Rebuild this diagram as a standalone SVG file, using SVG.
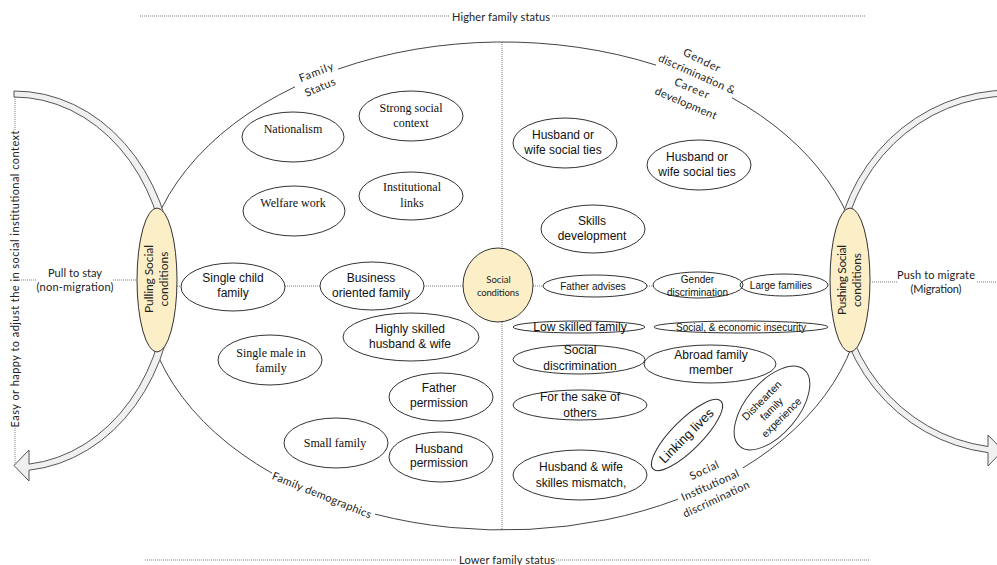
<svg xmlns="http://www.w3.org/2000/svg" width="997" height="565" viewBox="0 0 997 565">
<style>
  .dot{stroke:#7a7a7a;stroke-width:1;stroke-dasharray:1 1;fill:none}
  .node ellipse{fill:none;stroke:#333;stroke-width:1}
  .core{fill:#fcefc8;stroke:#333;stroke-width:1}
  .frame{fill:none;stroke:#444;stroke-width:1}
  .band{fill:#f0f0f0;stroke:#555;stroke-width:1}
  .serif{font-family:"Liberation Serif","Times New Roman",serif;font-size:12px;fill:#111;text-anchor:middle}
  .sans{font-family:"Liberation Sans",Arial,sans-serif;font-size:12px;fill:#111;text-anchor:middle}
  .small{font-size:10px}
  .cal{font-family:Lato,"Open Sans",sans-serif;font-size:11px;fill:#222;text-anchor:middle}
</style>

<rect width="997" height="565" fill="#fff"/>

<!-- status axis and guide lines -->
<g id="connectors">
  <path class="dot" d="M140,16H450M552,16H866"/>
  <path class="dot" d="M145,560H457M556,560H870"/>
  <path class="dot" d="M502,42V248M502,322V529"/>
  <path class="dot" d="M15,91V130M15,428V465"/>
  <path class="dot" d="M15,280H36M113,280H137"/>
  <path class="dot" d="M872,282H897M977,282H997"/>
  <path class="dot" d="M177,286H181M285,286H320M424,286H463M533,286H543M647,286H654"/>
</g>

<g id="axis-labels">
  <text class="cal" x="501" y="20.5" textLength="98">Higher family status</text>
  <text class="cal" x="507" y="564" textLength="96">Lower family status</text>
  <text class="cal" transform="translate(15,279) rotate(-90)" y="4" textLength="297">Easy or happy to adjust the in social institutional context</text>
  <text class="cal" x="75" y="277" textLength="54">Pull to stay</text>
  <text class="cal" x="75" y="291" textLength="77">(non-migration)</text>
  <text class="cal" x="936" y="279" textLength="78">Push to migrate</text>
  <text class="cal" x="936" y="293" textLength="51">(Migration)</text>
</g>

<!-- outer family frame, broken where the theme labels sit -->
<g id="frame">
  <path class="frame" d="M338,69.1A360,244 0 0 1 656,65.1M732,97.7A360,244 0 0 1 743,467.9M678,499.2A360,244 0 0 1 375,514.1M272,473.2A360,244 0 0 1 295,86.8"/>
  <text class="cal" transform="translate(316,72) rotate(-21)" y="4" textLength="36">Family</text>
  <text class="cal" transform="translate(320,87) rotate(-23)" y="4" textLength="32">Status</text>
  <text class="cal" transform="translate(702,60) rotate(26)" y="4" textLength="40">Gender</text>
  <text class="cal" transform="translate(697,74) rotate(24)" y="4" textLength="83">discrimination &amp;</text>
  <text class="cal" transform="translate(692,88) rotate(23)" y="4" textLength="37">Career</text>
  <text class="cal" transform="translate(686,103) rotate(23)" y="4" textLength="66">development</text>
  <text class="cal" transform="translate(322,495) rotate(22)" y="4" textLength="106">Family demographics</text>
  <text class="cal" transform="translate(704,470) rotate(-25)" y="4" textLength="31">Social</text>
  <text class="cal" transform="translate(710,485) rotate(-24)" y="4" textLength="62">Institutional</text>
  <text class="cal" transform="translate(716,499) rotate(-25)" y="4" textLength="72">discrimination</text>
</g>

<!-- curved direction arrows -->
<g id="stay-arrow">
  <path class="band" d="M14,91A160,190 0 0 1 29,470.2L29,481L14,465.5L29,450L29,464.1A153,184 0 0 0 14,97Z"/>
</g>
<g id="migrate-arrow">
  <path class="band" d="M1010,90A176,182 0 0 0 988,452.6L988,466L1003,450.5L988,435L988,446.5A170,176 0 0 1 1010,96Z"/>
</g>

<!-- pulling / pushing poles and the central hub -->
<g id="pulling">
  <ellipse class="core" cx="157" cy="280" rx="20" ry="72"/>
  <g transform="translate(157,279) rotate(-90)">
    <text class="cal" x="0" y="-4" style="font-size:12px" textLength="68">Pulling Social</text>
    <text class="cal" x="0" y="11" style="font-size:12px" textLength="55">conditions</text>
  </g>
</g>
<g id="pushing">
  <ellipse class="core" cx="850" cy="280" rx="20" ry="72"/>
  <g transform="translate(850,280) rotate(-90)">
    <text class="cal" x="0" y="-4" style="font-size:12px" textLength="70">Pushing Social</text>
    <text class="cal" x="0" y="11" style="font-size:12px" textLength="54">conditions</text>
  </g>
</g>
<g id="social-conditions">
  <ellipse class="core" cx="498" cy="285" rx="35" ry="37"/>
  <text class="cal" x="498.5" y="282.5" style="font-size:9.5px">Social</text>
  <text class="cal" x="498" y="295.5" style="font-size:9.5px" textLength="42">conditions</text>
</g>

<!-- left half: staying factors -->
<g id="nationalism" class="node"><ellipse cx="293" cy="137" rx="51" ry="25"/><text class="serif" x="293" y="133">Nationalism</text></g>
<g id="strong-social-context" class="node"><ellipse cx="411" cy="116" rx="52" ry="25"/><text class="serif" x="411" y="112">Strong social</text><text class="serif" x="411" y="127">context</text></g>
<g id="welfare-work" class="node"><ellipse cx="294" cy="211" rx="51" ry="25"/><text class="serif" x="293" y="207">Welfare work</text></g>
<g id="institutional-links" class="node"><ellipse cx="411" cy="196" rx="52" ry="24"/><text class="serif" x="412" y="191">Institutional</text><text class="serif" x="412" y="207">links</text></g>
<g id="single-child" class="node"><ellipse cx="233" cy="287" rx="52" ry="24"/><text class="sans" x="233" y="282">Single child</text><text class="sans" x="233" y="297">family</text></g>
<g id="business-oriented" class="node"><ellipse cx="372" cy="286" rx="52" ry="24"/><text class="sans" x="371" y="282">Business</text><text class="sans" x="371" y="297">oriented family</text></g>
<g id="highly-skilled" class="node"><ellipse cx="411" cy="337" rx="68" ry="24"/><text class="sans" x="410" y="333">Highly skilled</text><text class="sans" x="410" y="348">husband &amp; wife</text></g>
<g id="single-male" class="node"><ellipse cx="270" cy="360" rx="52" ry="25"/><text class="serif" x="271" y="357">Single male in</text><text class="serif" x="271" y="372">family</text></g>
<g id="father-permission" class="node"><ellipse cx="441" cy="397" rx="52" ry="24"/><text class="sans" x="439" y="392">Father</text><text class="sans" x="439" y="407">permission</text></g>
<g id="small-family" class="node"><ellipse cx="336" cy="443" rx="52" ry="25"/><text class="serif" x="335" y="447">Small family</text></g>
<g id="husband-permission" class="node"><ellipse cx="441" cy="457" rx="52" ry="25"/><text class="sans" x="439" y="453">Husband</text><text class="sans" x="439" y="467">permission</text></g>

<!-- right half: migrating factors -->
<g id="social-ties-1" class="node"><ellipse cx="565" cy="143" rx="52" ry="25"/><text class="sans" x="563" y="139">Husband or</text><text class="sans" x="563" y="154">wife social ties</text></g>
<g id="social-ties-2" class="node"><ellipse cx="699" cy="165" rx="52" ry="25"/><text class="sans" x="697" y="161">Husband or</text><text class="sans" x="697" y="176">wife social ties</text></g>
<g id="skills-development" class="node"><ellipse cx="593" cy="229" rx="52" ry="24"/><text class="sans" x="592" y="225">Skills</text><text class="sans" x="592" y="240">development</text></g>
<g id="father-advises" class="node"><ellipse cx="595" cy="286" rx="52" ry="11"/><text class="sans small" x="593" y="289.5">Father advises</text></g>
<g id="gender-discrimination" class="node"><ellipse cx="698" cy="285" rx="45" ry="13"/><text class="sans small" x="697.5" y="282.5">Gender</text><text class="sans small" x="697.5" y="295.5">discrimination</text></g>
<g id="large-families" class="node"><ellipse cx="784" cy="285" rx="44" ry="11"/><text class="sans small" x="781" y="288.5">Large families</text></g>
<g id="low-skilled" class="node"><ellipse cx="579" cy="327" rx="66" ry="6"/><text class="sans" x="580" y="331">Low skilled family</text></g>
<g id="insecurity" class="node"><ellipse cx="741" cy="327" rx="87" ry="6"/><text class="sans small" x="741" y="330.5">Social, &amp; economic insecurity</text></g>
<g id="social-discrimination" class="node"><ellipse cx="579" cy="359.5" rx="66" ry="14.5"/><text class="sans" x="580" y="354">Social</text><text class="sans" x="580" y="370">discrimination</text></g>
<g id="abroad-family" class="node"><ellipse cx="710" cy="364" rx="66" ry="19"/><text class="sans" x="711" y="359">Abroad family</text><text class="sans" x="711" y="374">member</text></g>
<g id="sake-of-others" class="node"><ellipse cx="580" cy="405" rx="67" ry="15"/><text class="sans" x="580" y="401">For the sake of</text><text class="sans" x="580" y="417">others</text></g>
<g id="skills-mismatch" class="node"><ellipse cx="580" cy="475" rx="67" ry="25"/><text class="sans" x="581" y="471">Husband &amp; wife</text><text class="sans" x="581" y="487">skilles mismatch,</text></g>
<g id="linking-lives" class="node" transform="translate(687,435) rotate(-45)"><ellipse cx="0" cy="0" rx="48" ry="15"/><text class="sans" x="-1" y="4.5" style="font-size:13px">Linking lives</text></g>
<g id="dishearten" class="node" transform="translate(772,408) rotate(-50)"><ellipse cx="0" cy="0" rx="50" ry="26"/>
  <g transform="rotate(5)"><text class="sans" x="-2" y="-9" style="font-size:10.5px">Dishearten</text><text class="sans" x="-1" y="4" style="font-size:10.5px">family</text><text class="sans" x="0" y="17" style="font-size:10.5px">experience</text></g>
</g>
</svg>
